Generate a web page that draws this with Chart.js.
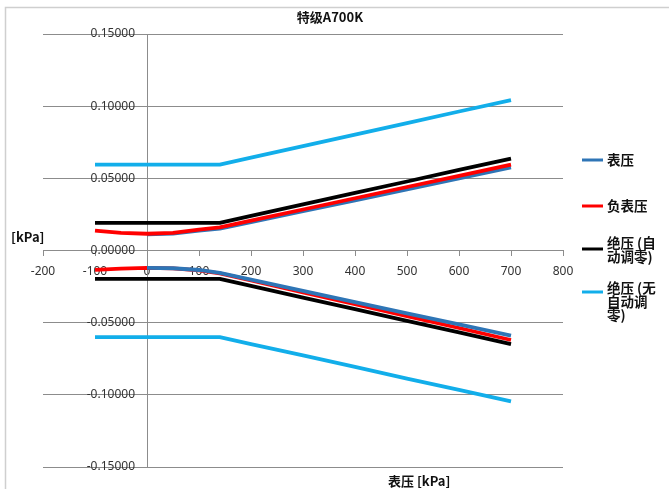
<!DOCTYPE html>
<html>
<head>
<meta charset="utf-8">
<script src="https://cdn.jsdelivr.net/npm/chart.js@4.4.1/dist/chart.umd.min.js"></script>
<style>
  html, body { margin: 0; padding: 0; background: #ffffff; }
  #wrap { width: 669px; height: 489px; position: relative; }
</style>
</head>
<body>
<div id="wrap"><canvas id="c" width="669" height="489"></canvas></div>
<script>
// ---- data ----
const chartTitle = '特级A700K';
const xAxisTitle = '表压 [kPa]';
const yAxisTitle = '[kPa]';
const seriesNames = ['表压', '负表压', '绝压 (自动调零)', '绝压 (无自动调零)'];
const legendLines = [['表压'], ['负表压'], ['绝压 (自', '动调零)'], ['绝压 (无', '自动调', '零)']];

const xFull  = [-100, -50, 0, 50, 100, 140, 200, 300, 400, 500, 600, 700];
const xGauge = [0, 50, 100, 140, 200, 300, 400, 500, 600, 700];

// 表压 (gauge)
const gaugeUpper = [0.0112, 0.0117, 0.0138, 0.0152, 0.0197, 0.0273, 0.0348, 0.0424, 0.0499, 0.0575];
const gaugeLower = [-0.0120, -0.0123, -0.0135, -0.0155, -0.0202, -0.0279, -0.0357, -0.0435, -0.0512, -0.0590];
// 负表压 (negative gauge)
const negUpper = [0.0137, 0.0122, 0.0116, 0.0122, 0.0145, 0.0160, 0.0207, 0.0284, 0.0362, 0.0440, 0.0517, 0.0595];
const negLower = [-0.0134, -0.0125, -0.0120, -0.0124, -0.0138, -0.0158, -0.0207, -0.0290, -0.0372, -0.0455, -0.0537, -0.0620];
// 绝压 (自动调零)
const absZeroUpper = [0.0192, 0.0192, 0.0192, 0.0192, 0.0192, 0.0192, 0.0240, 0.0319, 0.0399, 0.0478, 0.0558, 0.0637];
const absZeroLower = [-0.0197, -0.0197, -0.0197, -0.0197, -0.0197, -0.0197, -0.0245, -0.0326, -0.0406, -0.0487, -0.0567, -0.0648];
// 绝压 (无自动调零)
const absNoZeroUpper = [0.0595, 0.0595, 0.0595, 0.0595, 0.0595, 0.0595, 0.0643, 0.0723, 0.0803, 0.0883, 0.0963, 0.1042];
const absNoZeroLower = [-0.0600, -0.0600, -0.0600, -0.0600, -0.0600, -0.0600, -0.0648, -0.0727, -0.0807, -0.0887, -0.0966, -0.1046];

const xTicksMin = -200, xTicksMax = 800, xTickStep = 100;
const yTicksMin = -0.15, yTicksMax = 0.15, yTickStep = 0.05;

const seriesColors = ['#2E75B6', '#FF0000', '#000000', '#12AEEA'];

function pts(xs, ys) { return xs.map((x, i) => ({ x: x, y: ys[i] })); }

function ds(label, xs, ys, color, order, legend) {
  return {
    label: label, data: pts(xs, ys), borderColor: color, backgroundColor: color,
    borderWidth: 3.8, pointRadius: 0, pointHoverRadius: 0, showLine: true,
    tension: 0, fill: false, order: order, inLegend: legend,
    borderCapStyle: 'butt', borderJoinStyle: 'round'
  };
}

const datasets = [
  ds(seriesNames[3], xFull, absNoZeroUpper, seriesColors[3], 1, true),
  ds(seriesNames[3], xFull, absNoZeroLower, seriesColors[3], 1, false),
  ds(seriesNames[2], xFull, absZeroUpper, seriesColors[2], 2, true),
  ds(seriesNames[2], xFull, absZeroLower, seriesColors[2], 2, false),
  ds(seriesNames[1], xFull, negUpper, seriesColors[1], 3, true),
  ds(seriesNames[0], xGauge, gaugeUpper, seriesColors[0], 4, true),
  ds(seriesNames[0], xGauge, gaugeLower, seriesColors[0], 3, false),
  ds(seriesNames[1], xFull, negLower, seriesColors[1], 4, false)
];

const cjkFont = '"Noto Sans CJK SC", "Noto Sans", sans-serif';

// texts, legend and frame drawn around the chart
const decorPlugin = {
  id: 'decor',
  beforeDraw(chart) {
    const ctx = chart.ctx;
    ctx.save();
    ctx.strokeStyle = '#cfcfcf';
    ctx.lineWidth = 1.5;
    ctx.strokeRect(5.5, 7.5, 700, 520);
    ctx.restore();
  },
  afterDraw(chart) {
    const ctx = chart.ctx;
    ctx.save();
    ctx.fillStyle = '#111111';
    ctx.font = 'bold 13px ' + cjkFont;
    ctx.textBaseline = 'middle';
    // title
    ctx.textAlign = 'center';
    ctx.fillText(chartTitle, 330, 17);
    // y axis title
    ctx.textAlign = 'left';
    ctx.fillText(yAxisTitle, 11, 237);
    // x axis title
    ctx.fillText(xAxisTitle, 388, 481);
    // legend
    ctx.font = 'bold 13.5px ' + cjkFont;
    const lineX0 = 582, lineX1 = 603, textX = 607;
    const lineYs = [160, 206, 249, 292];
    const textYs = [160, 206, 243, 288];
    const lh = 13.4;
    legendLines.forEach((lines, i) => {
      ctx.strokeStyle = seriesColors[i];
      ctx.lineWidth = 3;
      ctx.beginPath();
      ctx.moveTo(lineX0, lineYs[i]);
      ctx.lineTo(lineX1, lineYs[i]);
      ctx.stroke();
      ctx.fillStyle = '#111111';
      lines.forEach((t, k) => ctx.fillText(t, textX, textYs[i] + k * lh));
    });
    ctx.restore();
  }
};

new Chart(document.getElementById('c'), {
  type: 'scatter',
  data: { datasets: datasets },
  plugins: [decorPlugin],
  options: {
    responsive: false,
    animation: false,
    layout: { padding: { left: 43, right: 106, top: 34, bottom: 22 } },
    plugins: {
      legend: { display: false },
      title: { display: false },
      tooltip: { enabled: false }
    },
    scales: {
      x: {
        type: 'linear',
        position: { y: 0 },
        min: xTicksMin, max: xTicksMax,
        ticks: {
          stepSize: xTickStep, autoSkip: false, maxRotation: 0,
          padding: 9, color: '#333333',
          font: { family: '"Noto Sans", sans-serif', size: 12 }
        },
        grid: { drawOnChartArea: false, drawTicks: true, tickLength: 5, color: '#8c8c8c' },
        border: { display: true, color: '#8c8c8c', width: 1 }
      },
      y: {
        type: 'linear',
        position: { x: 0 },
        min: yTicksMin, max: yTicksMax,
        ticks: {
          stepSize: yTickStep, color: '#333333',
          font: { family: '"Noto Sans", sans-serif', size: 12 },
          callback: (v) => (Math.abs(v) < 1e-9 ? 0 : v).toFixed(5) + '\u2003'
        },
        grid: { drawOnChartArea: true, drawTicks: false, color: '#8c8c8c', lineWidth: 1 },
        border: { display: true, color: '#8c8c8c', width: 1 }
      }
    }
  }
});
</script>
</body>
</html>
